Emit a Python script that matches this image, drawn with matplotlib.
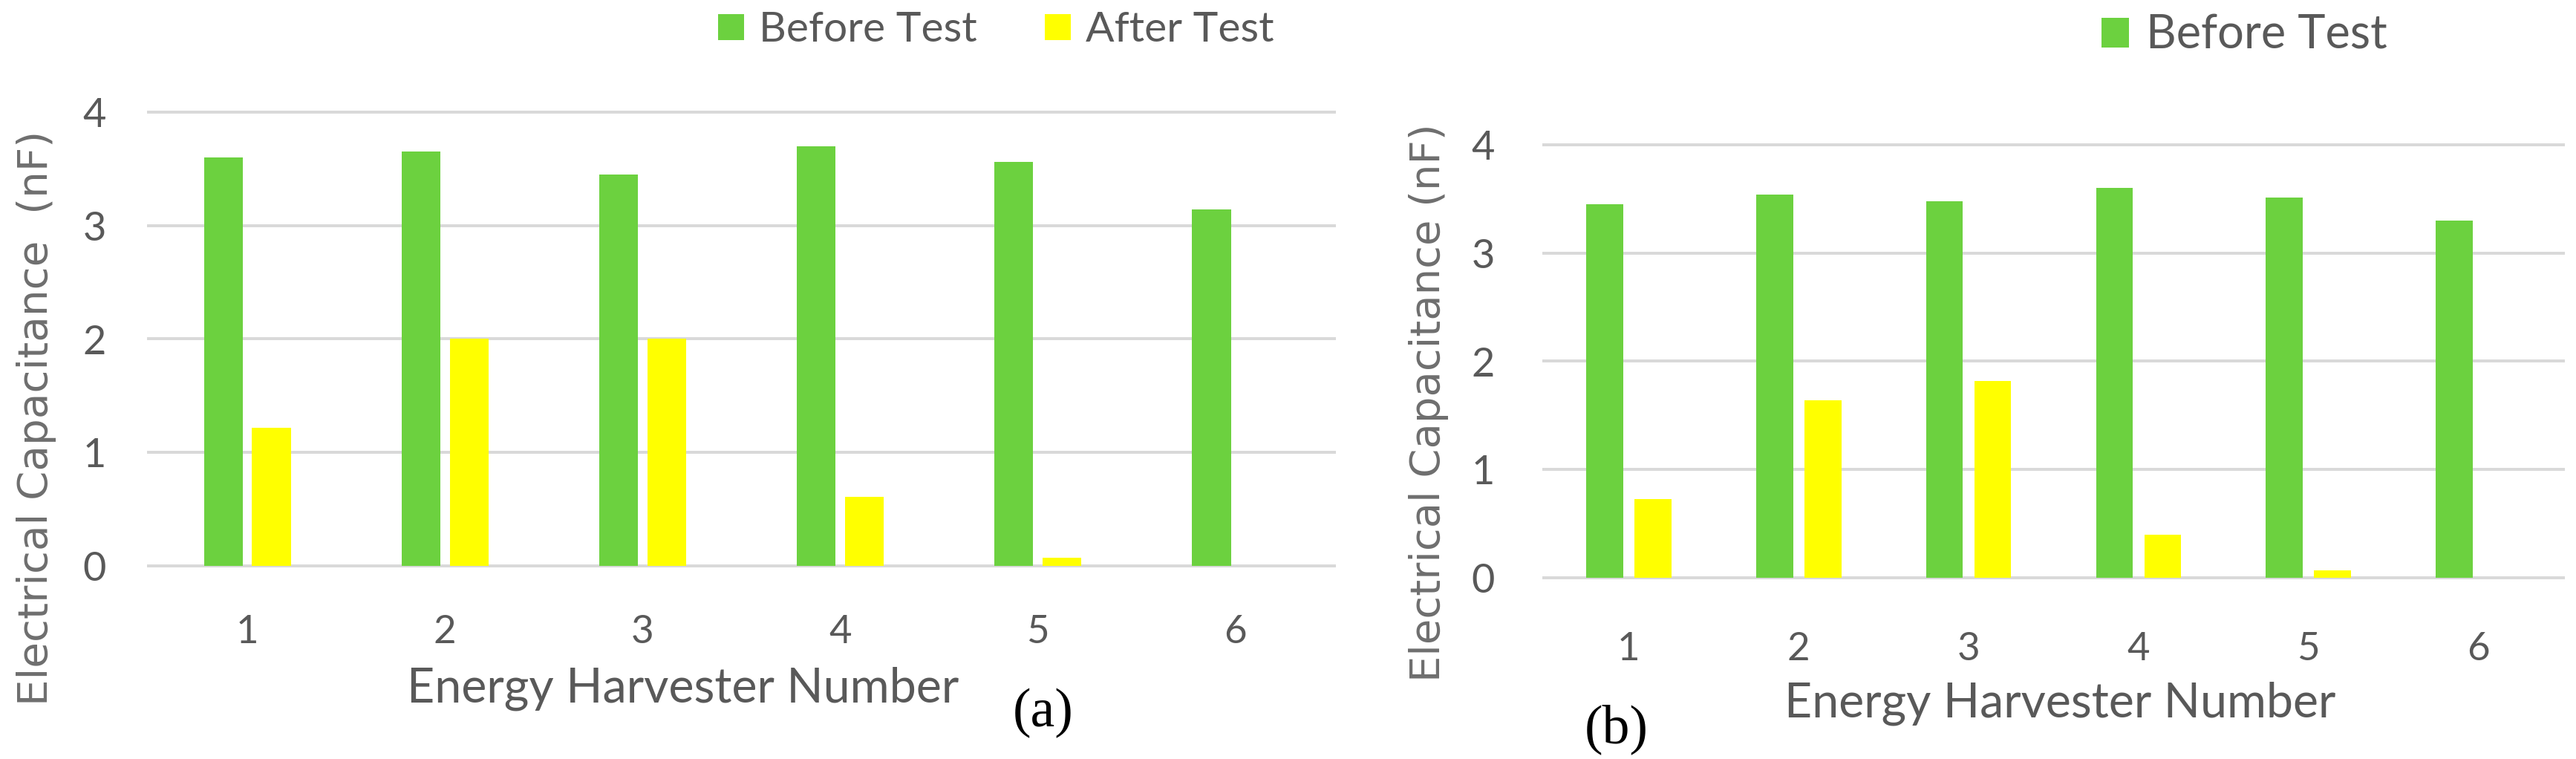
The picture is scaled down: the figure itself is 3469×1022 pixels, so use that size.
import matplotlib
matplotlib.use("Agg")
import matplotlib.pyplot as plt
import numpy as np

# ---------------- data ----------------
harvesters = ["1", "2", "3", "4", "5", "6"]
before_a = [3.60, 3.65, 3.45, 3.70, 3.56, 3.14]
after_a = [1.22, 2.00, 2.00, 0.61, 0.07, 0.0]
before_b = [3.45, 3.54, 3.48, 3.60, 3.51, 3.30]
after_b = [0.73, 1.64, 1.82, 0.40, 0.07, 0.0]
yticks = [0, 1, 2, 3, 4]
legend_a = ["Before Test", "After Test"]
legend_b = ["Before Test"]
xlabel = "Energy Harvester Number"
ylabel_a = "Electrical Capacitance  (nF)"
ylabel_b = "Electrical Capacitance (nF)"

# ---------------- style ----------------
W, H = 3469, 1022
DPI = 100
PX = 72.0 / DPI  # points per pixel
GREEN = "#6CD13F"
YELLOW = "#FFFF00"
GRID = "#D9D9D9"
TXT = "#595959"
YLAB = "#6E6E6E"
SANS = ["Lato", "DejaVu Sans"]

fig = plt.figure(figsize=(W / DPI, H / DPI), dpi=DPI)
fig.patch.set_facecolor("white")
renderer = fig.canvas.get_renderer()


def fit_size(text, family, target_px, ref=40):
    t = fig.text(0, 0, text, fontsize=ref, family=family)
    w = t.get_window_extent(renderer).width
    t.remove()
    return ref * target_px / w


def fx(px):
    return px / W


def fy(py):
    return 1 - py / H


def make_panel(rect_px, before, after, width, offset, xpad_px, ypad_px):
    l, t, r, b = rect_px
    ax = fig.add_axes([fx(l), fy(b), fx(r - l), (b - t) / H])
    x = np.arange(1, len(harvesters) + 1)
    hb = ax.bar(x - offset, before, width, color=GREEN, edgecolor="none", zorder=3)
    ha = ax.bar(x + offset, after, width, color=YELLOW, edgecolor="none", zorder=3)
    ax.set_xlim(0.5, 6.5)
    ax.set_ylim(0, 4)
    ax.set_yticks(yticks)
    ax.set_yticklabels([str(v) for v in yticks])
    ax.set_xticks(x)
    ax.set_xticklabels(harvesters)
    for s in ax.spines.values():
        s.set_visible(False)
    ax.set_axisbelow(True)
    ax.yaxis.grid(True, color=GRID, linewidth=4 * PX, zorder=0)
    ax.xaxis.grid(False)
    for gl in ax.get_ygridlines():
        gl.set_clip_on(False)
    ax.tick_params(axis="both", length=0)
    ax.tick_params(axis="x", pad=xpad_px * PX, labelsize=38, labelcolor=TXT)
    ax.tick_params(axis="y", pad=ypad_px * PX, labelsize=39, labelcolor=TXT)
    for lab in ax.get_xticklabels():
        lab.set_family(SANS)
        lab.set_va("baseline")
    for lab in ax.get_yticklabels():
        lab.set_family(SANS)
        lab.set_va("center_baseline")
    return ax, hb, ha


# panel (a)
ax_a, hb_a, ha_a = make_panel((200, 151, 1797, 762), before_a, after_a,
                              0.196, 0.122, 866 - 762, 200 - 143)
# panel (b)
ax_b, hb_b, ha_b = make_panel((2079, 195, 3452, 778), before_b, after_b,
                              0.217, 0.142, 889 - 778, 2079 - 2013)

# x labels
fs_xl = fit_size(xlabel, SANS, 745)
fig.text(fx(920), fy(945), xlabel, fontsize=fs_xl, family=SANS, color=TXT,
         ha="center", va="baseline")
fs_xl_b = fit_size(xlabel, SANS, 743)
fig.text(fx(2774), fy(965), xlabel, fontsize=fs_xl_b, family=SANS, color=TXT,
         ha="center", va="baseline")

# y labels
fs_yl_a = fit_size(ylabel_a, ["DejaVu Sans"], 773)
fig.text(fx(49), fy(563), ylabel_a, fontsize=fs_yl_a, family="DejaVu Sans",
         color=YLAB, rotation=90, ha="center", va="center")
fs_yl_b = fit_size(ylabel_b, ["DejaVu Sans"], 750)
fig.text(fx(1924), fy(542), ylabel_b, fontsize=fs_yl_b, family="DejaVu Sans",
         color=YLAB, rotation=90, ha="center", va="center")

# panel letters
fig.text(fx(1405), fy(960), "(a)", fontsize=53, family="Liberation Serif",
         color="black", ha="center", va="center")
fig.text(fx(2177), fy(982), "(b)", fontsize=53, family="Liberation Serif",
         color="black", ha="center", va="center")

# legends
fs_la = fit_size("Before Test", SANS, 293)
fpx = fs_la / PX
leg_a = fig.legend([hb_a, ha_a], legend_a, loc="center left",
                   bbox_to_anchor=(fx(967), fy(41)), ncol=2, frameon=False,
                   prop={"family": SANS, "size": fs_la},
                   handlelength=35 / fpx, handleheight=33 / fpx,
                   handletextpad=20 / fpx, columnspacing=91 / fpx,
                   borderpad=0, borderaxespad=0)
for t in leg_a.get_texts():
    t.set_color(TXT)

fs_lb = fit_size("Before Test", SANS, 325)
fpxb = fs_lb / PX
leg_b = fig.legend([hb_b], legend_b, loc="center left",
                   bbox_to_anchor=(fx(2830), fy(48)), ncol=1, frameon=False,
                   prop={"family": SANS, "size": fs_lb},
                   handlelength=37 / fpxb, handleheight=38 / fpxb,
                   handletextpad=23 / fpxb,
                   borderpad=0, borderaxespad=0)
for t in leg_b.get_texts():
    t.set_color(TXT)

fig.savefig("out.png", dpi=DPI, facecolor="white")
